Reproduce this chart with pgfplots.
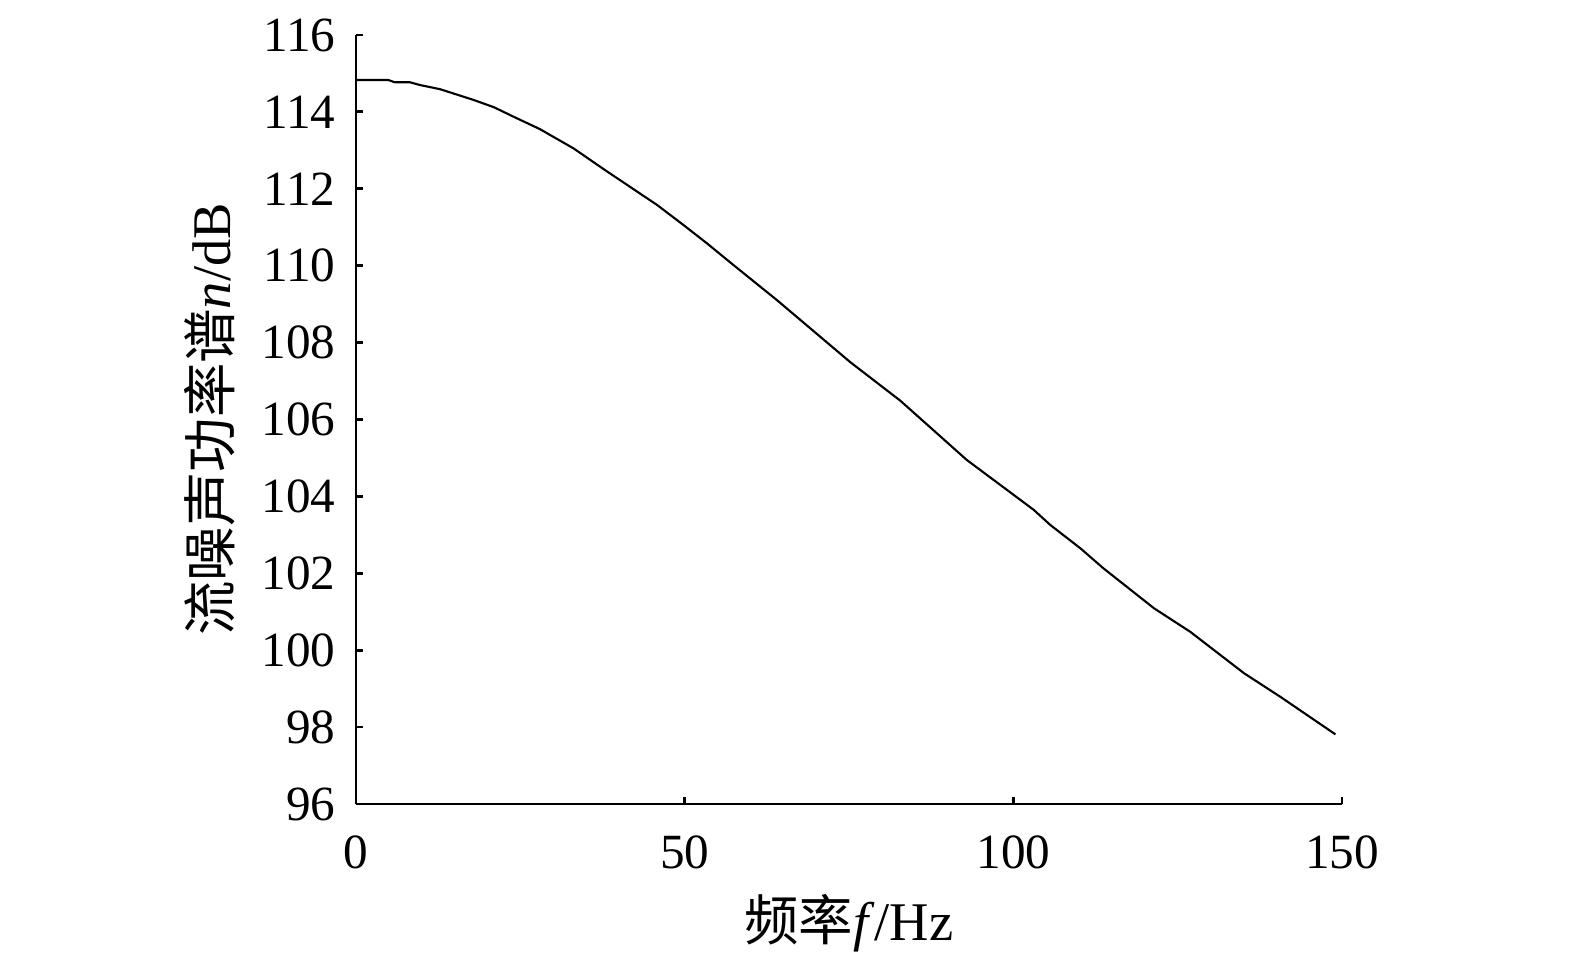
\documentclass[border=0pt]{standalone}
\usepackage{fontspec}
\setmainfont{Liberation Serif}
\newfontfamily\cjk{Noto Sans CJK SC}
\usepackage{pgfplots}
\pgfplotsset{compat=1.18}
\begin{document}
\begin{tikzpicture}
\begin{axis}[
  scale only axis,
  width=9.86cm, height=7.69cm,
  xmin=0, xmax=150, ymin=96, ymax=116,
  xtick={0,50,100,150},
  ytick={96,98,...,116},
  axis lines*=left,
  axis line style={line width=0.8pt},
  tick style={line width=0.8pt, black},
  tick align=inside,
  major tick length=0.07cm,
  /pgf/number format/assume math mode=true,
  ticklabel style={font=\fontsize{14pt}{16pt}\selectfont},
  xticklabel style={yshift=-0.19cm},
  yticklabel style={xshift=-0.08cm},
  xlabel={{\cjk 频率}\textit{f}/Hz},
  ylabel={{\cjk 流噪声功率谱}\textit{n}/dB},
  label style={font=\fontsize{15.5pt}{18pt}\selectfont},
  xlabel style={at={(axis description cs:0.5,-0.155)},anchor=center},
  ylabel style={at={(axis description cs:-0.148,0.5)},anchor=center},
  clip=false,
]
\addplot[black, line width=0.6pt] coordinates {
(0,114.83) (4.9,114.83) (5.9,114.77) (8.2,114.77) (9.7,114.70) (12.8,114.59)
(17.9,114.31) (21.0,114.12) (23.9,113.88) (28.0,113.55) (33.1,113.05)
(38.2,112.45) (45.8,111.58) (49.8,111.06) (53.4,110.58) (57.4,110.02)
(64.0,109.11) (75.2,107.49) (82.8,106.49) (92.9,104.95) (103.1,103.65)
(105.6,103.26) (110.2,102.65) (113.7,102.13) (121.4,101.09) (126.9,100.48)
(135.1,99.40) (140.6,98.79) (149.0,97.81)
};
\end{axis}
\pgfresetboundingbox
\path[use as bounding box] (current axis.south west) ++(-3.56cm,-1.61cm) rectangle ++(15.75cm,9.65cm);
\end{tikzpicture}
\end{document}
